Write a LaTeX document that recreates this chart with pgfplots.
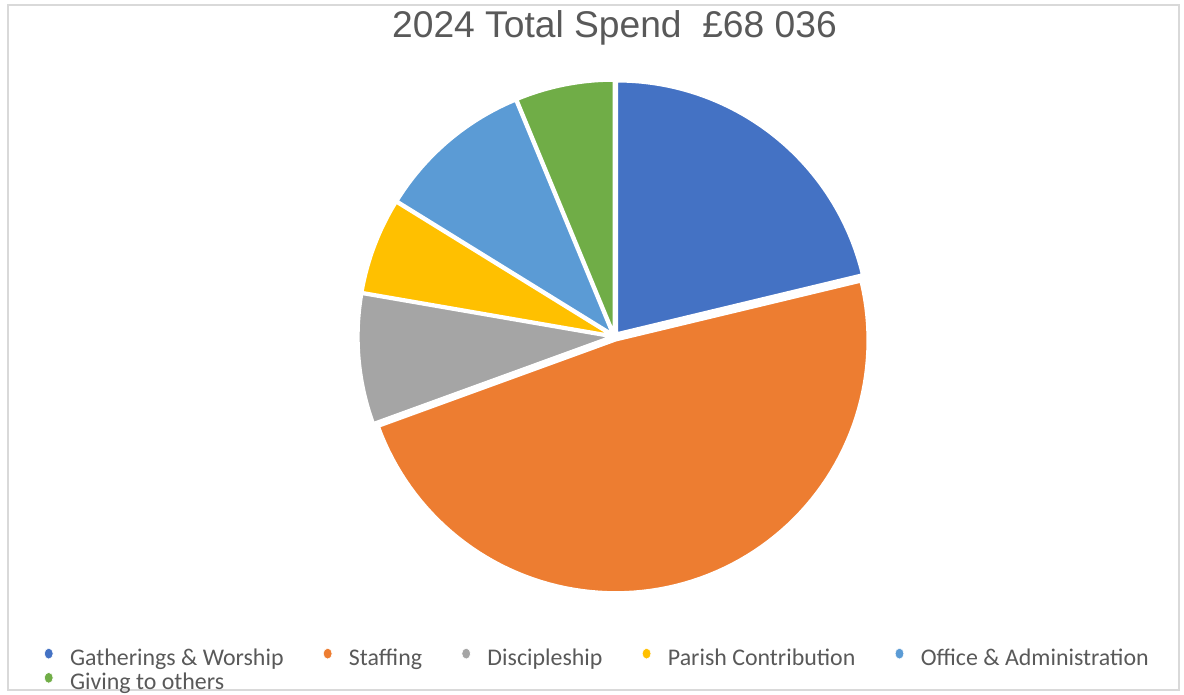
\documentclass[border=0pt]{standalone}
\usepackage{pgfplots}
\pgfplotsset{compat=1.18}
\usepackage{pgfplotstable}
\usepackage{fontspec}
\setmainfont{Liberation Sans}
\newfontfamily\legendfont{Carlito}

\definecolor{cGW}{HTML}{4472C4}
\definecolor{cST}{HTML}{ED7D31}
\definecolor{cDI}{HTML}{A5A5A5}
\definecolor{cPC}{HTML}{FFC000}
\definecolor{cOA}{HTML}{5B9BD5}
\definecolor{cGO}{HTML}{70AD47}
\definecolor{txt}{HTML}{595959}
\definecolor{frame}{HTML}{D9D9D9}

% spend per category (GBP), clockwise from 12 o'clock
\pgfplotstableread{
value
14458
32791
5632
4139
6766
4250
}\spend

\ExplSyntaxOn
\cs_new:Npn \dec #1 {\fp_to_decimal:n{#1}}
\ExplSyntaxOff

% slice angles from the values
\xdef\tot{0}
\foreach \i in {0,...,5}{%
  \pgfplotstablegetelem{\i}{value}\of\spend
  \xdef\tot{\dec{\tot+\pgfplotsretval}}}
\xdef\cur{90}
\foreach \i in {0,...,5}{%
  \pgfplotstablegetelem{\i}{value}\of\spend
  \xdef\nxt{\dec{\cur-360*\pgfplotsretval/\tot}}%
  \expandafter\xdef\csname s\i\endcsname{\nxt}%
  \expandafter\xdef\csname e\i\endcsname{\cur}%
  \expandafter\xdef\csname ox\i\endcsname{\dec{0.016*cosd((\cur+\nxt)/2)}}%
  \expandafter\xdef\csname oy\i\endcsname{\dec{0.016*sind((\cur+\nxt)/2)}}%
  \xdef\cur{\nxt}}

\newcommand\slice[2]{%
  \addplot[fill=#2, draw=white, line width=1.2pt, domain=\csname s#1\endcsname:\csname e#1\endcsname, samples=90]
    ({\csname ox#1\endcsname+cos(x)},{\csname oy#1\endcsname+sin(x)})
    -- (axis cs:\csname ox#1\endcsname,\csname oy#1\endcsname) -- cycle;}

\begin{document}
\begin{tikzpicture}
  \path (0,0) rectangle (592pt,-346.5pt);
  \draw[frame, line width=0.75pt] (4pt,-2.5pt) rectangle (589.5pt,-345pt);
  \begin{axis}[
    at={(307.25pt,-168.25pt)}, anchor=center,
    scale only axis, width=252pt, height=252pt,
    xmin=-1, xmax=1, ymin=-1, ymax=1,
    hide axis, clip=false,
    title={2024 Total Spend\ \ £68 036},
    title style={font=\fontsize{18.6}{22}\selectfont, text=txt, inner sep=0pt,
      anchor=base, at={(axis description cs:0.5,1.0695)}},
    legend columns=5, legend cell align=left,
    legend image code/.code={\fill[draw=white, line width=0.3pt] (2.2pt,3pt) ellipse [x radius=2.2pt, y radius=2.7pt];},
    legend style={draw=none, fill=none, inner sep=0pt, row sep=1pt,
      font=\legendfont\fontsize{11.95}{14}\selectfont,
      at={(axis description cs:-0.6327,-0.1171)}, anchor=north west,
      nodes={inner sep=0pt, text height=8pt, text depth=2.5pt, text=txt},
      /tikz/every odd column/.append style={column sep=8.3pt},
      /tikz/every even column/.append style={column sep=19.7pt}}]

    \slice{0}{cGW}
    \slice{1}{cST}
    \slice{2}{cDI}
    \slice{3}{cPC}
    \slice{4}{cOA}
    \slice{5}{cGO}
    \legend{Gatherings \& Worship, Staffing, Discipleship,
      Parish Contribution, Office \& Administration, Giving to others}
  \end{axis}
\end{tikzpicture}
\end{document}
